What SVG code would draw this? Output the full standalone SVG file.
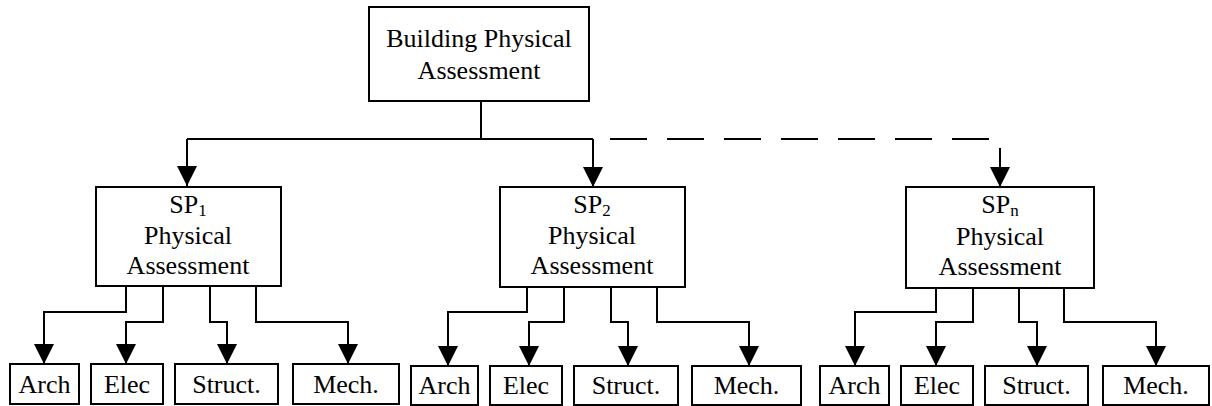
<svg xmlns="http://www.w3.org/2000/svg" width="1212" height="406" viewBox="0 0 1212 406">
<style>
.box{fill:#fff;stroke:#000;stroke-width:2}
.t{font-family:"Liberation Serif","Times New Roman",serif;font-size:26px;fill:#000;text-anchor:middle}
.sub{font-size:17px}
.c{fill:none;stroke:#000;stroke-width:2}
.a{marker-end:url(#ah)}
.d{stroke-dasharray:37 20}
</style>
<defs>
<marker id="ah" markerUnits="userSpaceOnUse" markerWidth="20" markerHeight="20" refX="20" refY="10" orient="auto" viewBox="0 0 20 20">
<path d="M0,0 L20,10 L0,20 z" fill="#000"/>
</marker>
</defs>
<g id="connectors">
<path class="c" d="M481,101 V139 M187,139 H593"/>
<path class="c d" d="M610,139 H989"/>
<path class="c a" d="M187,139 V186"/>
<path class="c a" d="M593,139 V187"/>
<path class="c a" d="M1000,148 V187"/>
<path class="c a" d="M126,286 V312 H44 V364"/>
<path class="c a" d="M163,286 V322 H126 V364"/>
<path class="c a" d="M210,286 V322 H227 V364"/>
<path class="c a" d="M256,286 V322 H348 V364"/>
<path class="c a" d="M527,287 V312 H448 V366"/>
<path class="c a" d="M564,287 V322 H529 V366"/>
<path class="c a" d="M611,287 V322 H628 V366"/>
<path class="c a" d="M657,287 V322 H749 V366"/>
<path class="c a" d="M936,288 V312 H855 V366"/>
<path class="c a" d="M973,288 V322 H936 V366"/>
<path class="c a" d="M1019,288 V322 H1037 V366"/>
<path class="c a" d="M1064,288 V322 H1156 V366"/>
</g>
<g id="root">
<rect class="box" x="369" y="7" width="220" height="94"/>
<text class="t" x="479" y="47">Building Physical</text>
<text class="t" x="479" y="79">Assessment</text>
</g>
<g id="sp1">
<rect class="box" x="96" y="187" width="185" height="99"/>
<text class="t" x="188" y="213">SP<tspan class="sub" dy="3">1</tspan></text>
<text class="t" x="188" y="244">Physical</text>
<text class="t" x="188" y="274">Assessment</text>
</g>
<g id="sp2">
<rect class="box" x="500" y="187" width="185" height="100"/>
<text class="t" x="592" y="213">SP<tspan class="sub" dy="3">2</tspan></text>
<text class="t" x="592" y="244">Physical</text>
<text class="t" x="592" y="274">Assessment</text>
</g>
<g id="spn">
<rect class="box" x="906" y="187" width="188" height="101"/>
<text class="t" x="1000" y="213">SP<tspan class="sub" dy="3">n</tspan></text>
<text class="t" x="1000" y="245">Physical</text>
<text class="t" x="1000" y="275">Assessment</text>
</g>
<g id="arch1"><rect class="box" x="10" y="364" width="69" height="40"/><text class="t" x="44.5" y="393">Arch</text></g>
<g id="elec1"><rect class="box" x="91" y="364" width="72" height="40"/><text class="t" x="127" y="393">Elec</text></g>
<g id="struct1"><rect class="box" x="175" y="364" width="103" height="40"/><text class="t" x="226.5" y="393">Struct.</text></g>
<g id="mech1"><rect class="box" x="293" y="364" width="106" height="40"/><text class="t" x="346" y="393">Mech.</text></g>
<g id="arch2"><rect class="box" x="411" y="366" width="67" height="39"/><text class="t" x="444.5" y="394">Arch</text></g>
<g id="elec2"><rect class="box" x="490" y="366" width="72" height="39"/><text class="t" x="526" y="394">Elec</text></g>
<g id="struct2"><rect class="box" x="574" y="366" width="104" height="39"/><text class="t" x="626" y="394">Struct.</text></g>
<g id="mech2"><rect class="box" x="692" y="366" width="109" height="39"/><text class="t" x="746.5" y="394">Mech.</text></g>
<g id="arch3"><rect class="box" x="820" y="366" width="69" height="39"/><text class="t" x="854.5" y="394">Arch</text></g>
<g id="elec3"><rect class="box" x="901" y="366" width="72" height="39"/><text class="t" x="937" y="394">Elec</text></g>
<g id="struct3"><rect class="box" x="985" y="366" width="103" height="39"/><text class="t" x="1036.5" y="394">Struct.</text></g>
<g id="mech3"><rect class="box" x="1103" y="366" width="106" height="39"/><text class="t" x="1156" y="394">Mech.</text></g>
</svg>
